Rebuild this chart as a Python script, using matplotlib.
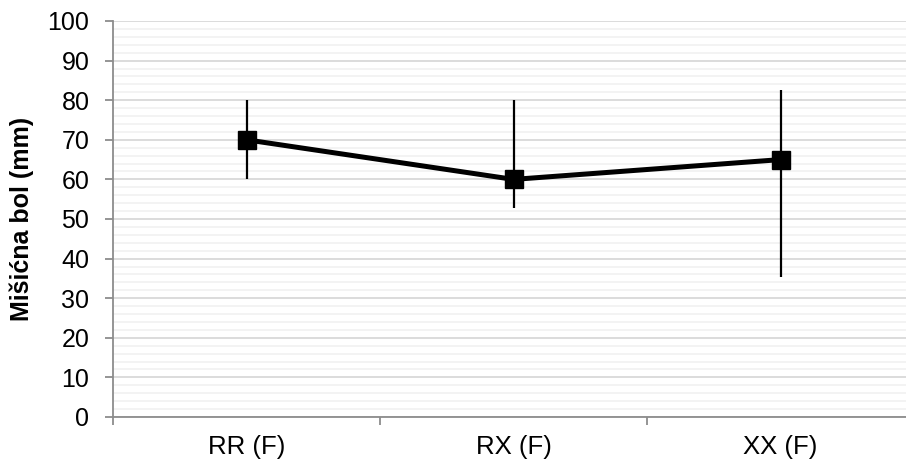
import matplotlib
matplotlib.use('Agg')
import matplotlib.pyplot as plt
import numpy as np

# data
categories = ['RR (F)', 'RX (F)', 'XX (F)']
means = [70, 60, 65]
err_low = [60, 52.8, 35.3]
err_high = [80, 80, 82.5]

plt.rcParams['font.family'] = ['Liberation Sans', 'DejaVu Sans']

fig = plt.figure(figsize=(9.06, 4.66), dpi=100)
ax = fig.add_axes([113 / 906, 49 / 466, 801 / 906, 396 / 466])

x = np.arange(len(categories))
means_arr = np.array(means)
yerr = [means_arr - np.array(err_low), np.array(err_high) - means_arr]

ax.errorbar(x, means, yerr=yerr, fmt='none', ecolor='black', elinewidth=1.6, capsize=0, zorder=3)
ax.plot(x, means, color='black', linewidth=3.6, marker='s', markersize=12.5,
        markerfacecolor='black', markeredgecolor='black', zorder=4)

ax.set_xlim(-0.5, len(categories) - 0.5)
ax.set_ylim(0, 100)
ax.set_yticks(np.arange(0, 101, 10))
ax.set_yticks(np.arange(0, 101, 2), minor=True)

# category labels between boundary ticks, like a spreadsheet chart
ax.set_xticks(np.arange(-0.5, len(categories), 1))
ax.set_xticklabels([])
ax.set_xticks(x, minor=True)
ax.set_xticklabels(categories, minor=True)

ax.grid(axis='y', which='major', color='#d9d9d9', linewidth=1.3, zorder=0)
ax.grid(axis='y', which='minor', color='#f0f0f0', linewidth=1.1, zorder=0)
ax.set_axisbelow(True)

for s in ['top', 'right']:
    ax.spines[s].set_visible(False)
for s in ['left', 'bottom']:
    ax.spines[s].set_color('#8c8c8c')
    ax.spines[s].set_linewidth(1.3)

ax.tick_params(axis='y', which='major', length=6, width=1.3, color='#8c8c8c',
               labelsize=18, pad=11, labelcolor='black')
ax.tick_params(axis='y', which='minor', length=0)
ax.tick_params(axis='x', which='major', length=6, width=1.3, color='#8c8c8c')
ax.tick_params(axis='x', which='minor', length=0, labelsize=18.5, pad=13)

ax.set_ylabel('Mišićna bol (mm)', fontsize=18, fontweight='bold')
ax.yaxis.set_label_coords(-79 / 801, 0.5)

fig.savefig('out.png', dpi=100)
